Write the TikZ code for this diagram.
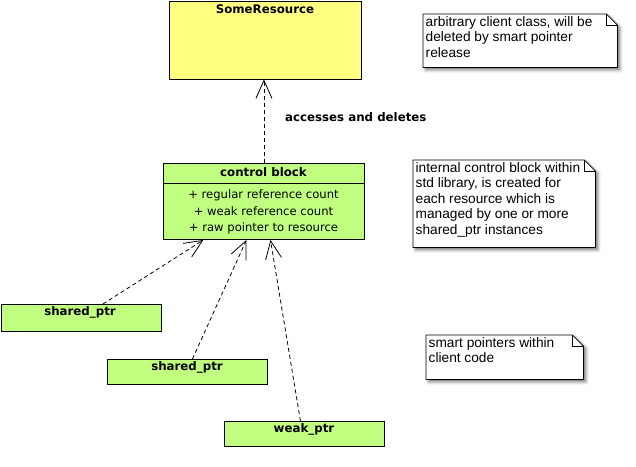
\documentclass[tikz,border=0pt]{standalone}
\usepackage{fontspec}
\setmainfont{DejaVu Sans}
\newfontfamily\notefont{Liberation Sans}
\usetikzlibrary{arrows.meta,shadows.blur,calc}
\definecolor{resyellow}{HTML}{FFFF80}
\definecolor{ptrgreen}{HTML}{C0FF80}
\begin{document}
\begin{tikzpicture}[x=1pt,y=-1pt,
  box/.style={draw=black, line width=0.9pt, anchor=north west, inner sep=0pt},
  titletext/.style={font=\fontsize{11.8}{13}\selectfont\bfseries, inner sep=0pt},
  attrtext/.style={font=\fontsize{11.6}{16.5}\selectfont, align=center, inner sep=0pt},
  notearea/.style={anchor=north west, inner sep=0pt},
  notetext/.style={font=\notefont\fontsize{13.7}{15.5}\selectfont, align=left, anchor=north west, inner sep=0pt},
  noteshape/.style={draw=black, line width=0.8pt, fill=white,
    blur shadow={shadow xshift=2.5pt, shadow yshift=-2.5pt, shadow blur radius=3pt, shadow opacity=55}},
  dep/.style={draw=black, line width=0.8pt, dash pattern=on 4pt off 3pt,
    -{Straight Barb[length=18pt,width=16pt,line width=0.8pt]}}
]
\useasboundingbox (0,0) rectangle (636,466);

% SomeResource
\node[box, fill=resyellow, minimum width=192pt, minimum height=78pt] (res) at (169,0.5) {};
\node[titletext] (restitle) at (265,9) {SomeResource};

% control block
\node[box, fill=ptrgreen, minimum width=201pt, minimum height=76pt] (cb) at (163,163) {};
\draw[line width=0.9pt] ($(cb.north west)+(0,20)$) -- ($(cb.north east)+(0,20)$);
\node[titletext] (cbtitle) at (263.5,172) {control block};
\node[attrtext] (cbattr) at (263.5,212) {+ regular reference count\\+ weak reference count\\+ raw pointer to resource};

% pointers
\node[box, fill=ptrgreen, minimum width=160pt, minimum height=27pt] (sp1) at (0.5,304) {};
\node[titletext] (sp1t) at (80,312) {shared\_ptr};
\node[box, fill=ptrgreen, minimum width=160pt, minimum height=25pt] (sp2) at (107,359) {};
\node[titletext] (sp2t) at (187,367) {shared\_ptr};
\node[box, fill=ptrgreen, minimum width=160pt, minimum height=25pt] (wp) at (224,421) {};
\node[titletext] (wpt) at (304,429) {weak\_ptr};

% connectors
\draw[dep] (cb.north) -- (cb.north |- res.south);
\node[titletext, anchor=west] (lbl) at (285,117) {accesses and deletes};
\draw[dep] ([xshift=22pt]sp1.north) -- ([xshift=-60.5pt]cb.south);
\draw[dep] ([xshift=5pt]sp2.north) -- ([xshift=-17.5pt]cb.south);
\draw[dep] ([xshift=-4pt]wp.north) -- ([xshift=6.5pt]cb.south);

% notes
\node[notearea, minimum width=194pt, minimum height=53pt] (n1) at (423,14) {};
\path[noteshape] (n1.north west) -- ($(n1.north east)+(-11,0)$) -- ($(n1.north east)+(0,11)$) -- (n1.south east) -- (n1.south west) -- cycle;
\draw[line width=0.8pt] ($(n1.north east)+(-11,0)$) -- ($(n1.north east)+(-11,11)$) -- ($(n1.north east)+(0,11)$);
\node[notetext] (n1t) at ($(n1.north west)+(2.5,2)$) {arbitrary client class, will be\\deleted by smart pointer\\release};

\node[notearea, minimum width=182pt, minimum height=87pt] (n2) at (413,160) {};
\path[noteshape] (n2.north west) -- ($(n2.north east)+(-11,0)$) -- ($(n2.north east)+(0,11)$) -- (n2.south east) -- (n2.south west) -- cycle;
\draw[line width=0.8pt] ($(n2.north east)+(-11,0)$) -- ($(n2.north east)+(-11,11)$) -- ($(n2.north east)+(0,11)$);
\node[notetext] (n2t) at ($(n2.north west)+(2.5,2)$) {internal control block within\\std library, is created for\\each resource which is\\managed by one or more\\shared\_ptr instances};

\node[notearea, minimum width=157pt, minimum height=44pt] (n3) at (426,335) {};
\path[noteshape] (n3.north west) -- ($(n3.north east)+(-11,0)$) -- ($(n3.north east)+(0,11)$) -- (n3.south east) -- (n3.south west) -- cycle;
\draw[line width=0.8pt] ($(n3.north east)+(-11,0)$) -- ($(n3.north east)+(-11,11)$) -- ($(n3.north east)+(0,11)$);
\node[notetext] (n3t) at ($(n3.north west)+(2.5,2)$) {smart pointers within\\client code};
\end{tikzpicture}
\end{document}
